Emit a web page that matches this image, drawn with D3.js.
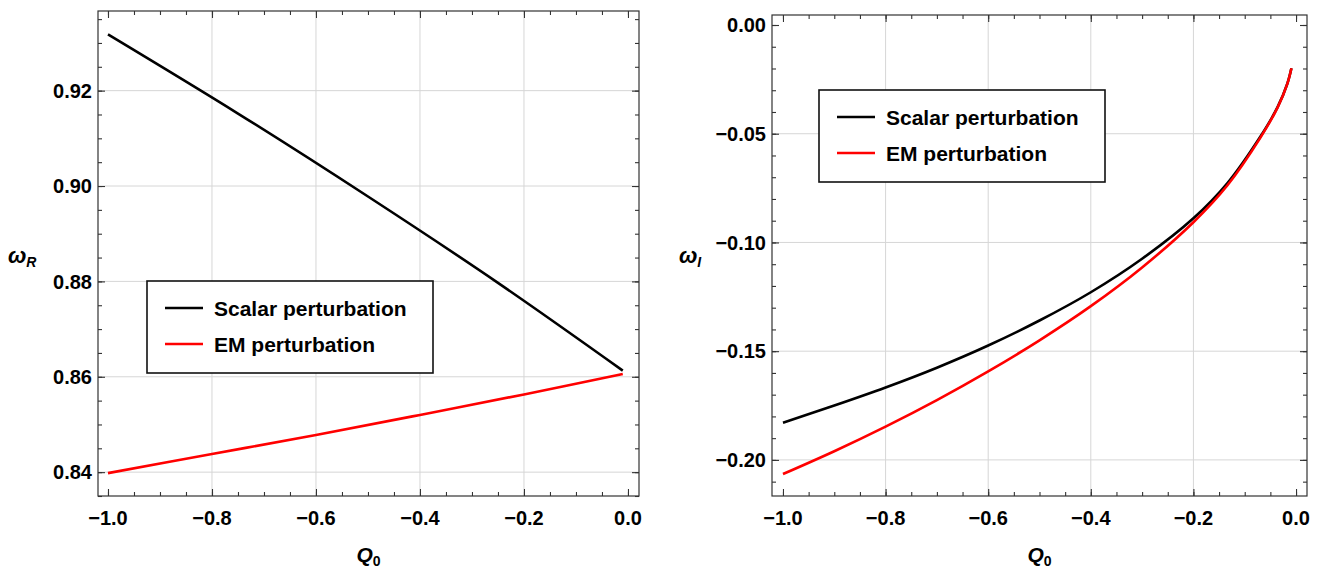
<!DOCTYPE html>
<html>
<head>
<meta charset="utf-8">
<script src="https://cdn.jsdelivr.net/npm/d3@7"></script>
<style>
  body { margin: 0; background: #fff; }
  text { font-family: "Liberation Sans", Arial, sans-serif; }
</style>
</head>
<body>
<svg width="1322" height="569"></svg>
<script>
// ---- data ----
var qTicks = [-1.0, -0.8, -0.6, -0.4, -0.2, 0.0];
var reTicks = [0.84, 0.86, 0.88, 0.90, 0.92];
var imTicks = [0.00, -0.05, -0.10, -0.15, -0.20];

// left panel: real part
var scalarReQ = [-1.0, -0.75, -0.5, -0.25, -0.01];
var scalarRe  = [0.9318, 0.9152, 0.8978, 0.8797, 0.8613];
var emReQ = [-1.0, -0.8, -0.6, -0.4, -0.2, -0.01];
var emRe  = [0.8398, 0.8438, 0.8478, 0.8520, 0.8563, 0.8606];

// right panel: imaginary part
var imQ = [-1.0, -0.9, -0.8, -0.7, -0.6, -0.5, -0.4, -0.3, -0.2, -0.134, -0.07, -0.036, -0.017, -0.009];
var scalarIm = [-0.1829, -0.1750, -0.1667, -0.1576, -0.1474, -0.1359, -0.1229, -0.1075, -0.0889, -0.0728, -0.0515, -0.0378, -0.0270, -0.0199];
var emIm     = [-0.2065, -0.1960, -0.1847, -0.1725, -0.1593, -0.1450, -0.1293, -0.1115, -0.0907, -0.0738, -0.0520, -0.0380, -0.0271, -0.0199];

var seriesNames = ["Scalar perturbation", "EM perturbation"];
var seriesColors = ["#000000", "#ff0000"];

var svg = d3.select("svg");

function zip(xs, ys) {
  return xs.map(function(x, i) { return [x, ys[i]]; });
}

function drawPanel(p) {
  var x = d3.scaleLinear().domain(p.xDomain).range([p.x0, p.x1]);
  var y = d3.scaleLinear().domain(p.yDomain).range([p.y1, p.y0]);
  var g = svg.append("g");

  // grid
  g.selectAll(".vgrid").data(p.xGrid).enter().append("line")
    .attr("x1", function(d) { return x(d); }).attr("x2", function(d) { return x(d); })
    .attr("y1", p.y0).attr("y2", p.y1)
    .attr("stroke", "#d6d6d6").attr("stroke-width", 1);
  g.selectAll(".hgrid").data(p.yGrid).enter().append("line")
    .attr("y1", function(d) { return y(d); }).attr("y2", function(d) { return y(d); })
    .attr("x1", p.x0).attr("x2", p.x1)
    .attr("stroke", "#d6d6d6").attr("stroke-width", 1);

  // ticks on all four sides, pointing inward
  var xMinor = d3.range(-20, 1).map(function(i) { return i * 0.05; })
    .filter(function(v) { return v >= p.xDomain[0] && v <= p.xDomain[1]; });
  var yMinor = d3.range(Math.ceil(p.yDomain[0] / p.yStep), Math.floor(p.yDomain[1] / p.yStep) + 1)
    .map(function(i) { return i * p.yStep; });

  function addAxis(axis, tx, ty) {
    var a = g.append("g").attr("transform", "translate(" + tx + "," + ty + ")").call(axis);
    a.select(".domain").remove();
    a.selectAll("line").attr("stroke", "#333").attr("stroke-width", 1.1);
    a.selectAll("text").remove();
  }
  [[qTicks, 7], [xMinor, 4]].forEach(function(t) {
    addAxis(d3.axisBottom(x).tickValues(t[0]).tickSize(-t[1]), 0, p.y1);
    addAxis(d3.axisTop(x).tickValues(t[0]).tickSize(-t[1]), 0, p.y0);
  });
  [[p.yTicks, 7], [yMinor, 4]].forEach(function(t) {
    addAxis(d3.axisLeft(y).tickValues(t[0]).tickSize(-t[1]), p.x0, 0);
    addAxis(d3.axisRight(y).tickValues(t[0]).tickSize(-t[1]), p.x1, 0);
  });

  // frame
  g.append("rect")
    .attr("x", p.x0).attr("y", p.y0)
    .attr("width", p.x1 - p.x0).attr("height", p.y1 - p.y0)
    .attr("fill", "none").attr("stroke", "#333").attr("stroke-width", 1.2);

  // tick labels
  g.selectAll(".xl").data(qTicks).enter().append("text")
    .attr("x", function(d) { return x(d); })
    .attr("y", p.y1 + 29)
    .attr("text-anchor", "middle")
    .attr("font-size", 20).attr("font-weight", "bold")
    .text(d3.format(".1f"));
  g.selectAll(".yl").data(p.yTicks).enter().append("text")
    .attr("x", p.x0 - 6)
    .attr("y", function(d) { return y(d); })
    .attr("dy", "0.36em")
    .attr("text-anchor", "end")
    .attr("font-size", 20).attr("font-weight", "bold")
    .text(d3.format(".2f"));

  // curves
  var line = d3.line()
    .x(function(d) { return x(d[0]); })
    .y(function(d) { return y(d[1]); })
    .curve(d3.curveCatmullRom.alpha(0.5));
  p.series.forEach(function(s, i) {
    g.append("path")
      .datum(s)
      .attr("fill", "none")
      .attr("stroke", seriesColors[i])
      .attr("stroke-width", 2.6)
      .attr("d", line);
  });

  // axis titles
  var yl = g.append("text")
    .attr("x", p.yLabelX).attr("y", 263)
    .attr("font-size", 22).attr("font-weight", "bold").attr("font-style", "italic")
    .text("ω");
  yl.append("tspan").attr("dy", 4).attr("font-size", 14).text(p.ySub);

  var xl = g.append("text")
    .attr("x", (p.x0 + p.x1) / 2).attr("y", 562)
    .attr("text-anchor", "middle")
    .attr("font-size", 21).attr("font-weight", "bold").attr("font-style", "italic")
    .text("Q");
  xl.append("tspan").attr("dy", 4).attr("font-size", 14).attr("font-style", "normal").text("0");

  // legend
  var lg = g.append("g").attr("transform", "translate(" + p.legend[0] + "," + p.legend[1] + ")");
  lg.append("rect")
    .attr("width", 286).attr("height", 92)
    .attr("fill", "#fff").attr("stroke", "#111").attr("stroke-width", 1.6);
  seriesNames.forEach(function(name, i) {
    var cy = 27 + i * 36;
    lg.append("line")
      .attr("x1", 18).attr("x2", 56).attr("y1", cy).attr("y2", cy)
      .attr("stroke", seriesColors[i]).attr("stroke-width", 2.6);
    lg.append("text")
      .attr("x", 67).attr("y", cy).attr("dy", "0.36em")
      .attr("font-size", 21).attr("font-weight", "bold")
      .text(name);
  });
}

drawPanel({
  x0: 98, x1: 639, y0: 11, y1: 496,
  xDomain: [-1.0192, 0.0212], yDomain: [0.8350, 0.9367],
  yTicks: reTicks, yStep: 0.005,
  xGrid: [-0.8, -0.6, -0.4, -0.2], yGrid: reTicks,
  series: [zip(scalarReQ, scalarRe), zip(emReQ, emRe)],
  legend: [147, 281],
  yLabelX: 8, ySub: "R"
});

drawPanel({
  x0: 772, x1: 1307, y0: 15, y1: 496,
  xDomain: [-1.0214, 0.0214], yDomain: [-0.2166, 0.0046],
  yTicks: imTicks, yStep: 0.01,
  xGrid: [-0.8, -0.6, -0.4, -0.2], yGrid: [-0.05, -0.10, -0.15, -0.20],
  series: [zip(imQ, scalarIm), zip(imQ, emIm)],
  legend: [819, 90],
  yLabelX: 679, ySub: "I"
});
</script>
</body>
</html>
